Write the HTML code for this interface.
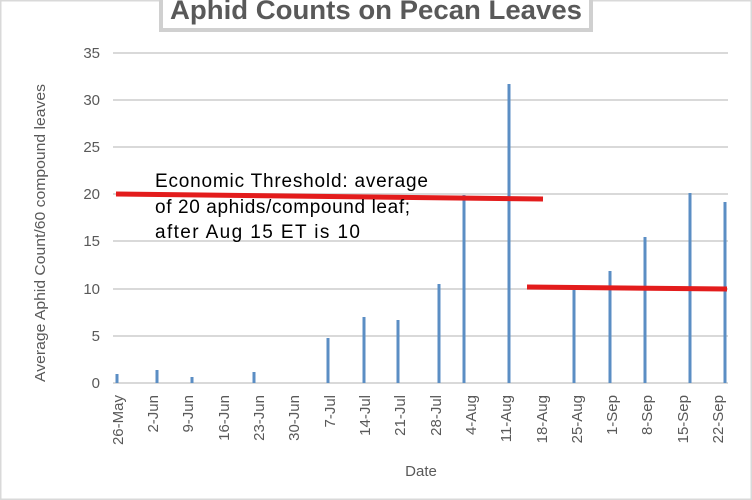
<!DOCTYPE html>
<html><head><style>
body{margin:0;background:#fff;}
svg{display:block;font-family:"Liberation Sans",sans-serif;}
</style></head><body>
<svg width="752" height="500" viewBox="0 0 752 500">
<rect x="0.5" y="0.5" width="751" height="499" fill="#fff" stroke="#d9d9d9" stroke-width="2"/>
<rect x="161" y="-8" width="430" height="38" fill="#fff" stroke="#d0d0d0" stroke-width="4"/>
<text x="376" y="19" text-anchor="middle" font-size="27" font-weight="bold" fill="#595959" textLength="412" lengthAdjust="spacingAndGlyphs">Aphid Counts on Pecan Leaves</text>
<g stroke="#d9d9d9" stroke-width="2">
<line x1="113" x2="728" y1="53" y2="53"/><line x1="113" x2="728" y1="100" y2="100"/>
<line x1="113" x2="728" y1="147" y2="147"/><line x1="113" x2="728" y1="194" y2="194"/>
<line x1="113" x2="728" y1="241" y2="241"/><line x1="113" x2="728" y1="289" y2="289"/>
<line x1="113" x2="728" y1="336" y2="336"/><line x1="113" x2="728" y1="383" y2="383"/>
</g>
<g font-size="15" fill="#595959" text-anchor="end">
<text x="100" y="58">35</text><text x="100" y="105">30</text><text x="100" y="152">25</text>
<text x="100" y="199">20</text><text x="100" y="246">15</text><text x="100" y="294">10</text>
<text x="100" y="341">5</text><text x="100" y="388">0</text>
</g>
<g stroke="#5b8ec4" stroke-width="3">
<line x1="117" x2="117" y1="383" y2="374"/><line x1="157" x2="157" y1="383" y2="370"/>
<line x1="192" x2="192" y1="383" y2="377"/><line x1="254" x2="254" y1="383" y2="372"/>
<line x1="328" x2="328" y1="383" y2="338"/><line x1="364" x2="364" y1="383" y2="317"/>
<line x1="398" x2="398" y1="383" y2="320"/><line x1="439" x2="439" y1="383" y2="284"/>
<line x1="464" x2="464" y1="383" y2="195"/><line x1="509" x2="509" y1="383" y2="84"/>
<line x1="574" x2="574" y1="383" y2="290"/><line x1="610" x2="610" y1="383" y2="271"/>
<line x1="645" x2="645" y1="383" y2="237"/><line x1="690" x2="690" y1="383" y2="193"/>
<line x1="725" x2="725" y1="383" y2="202"/>
</g>
<g font-size="15" fill="#595959" text-anchor="end">
<text transform="translate(123,395) rotate(-90)">26-May</text>
<text transform="translate(158,395) rotate(-90)">2-Jun</text>
<text transform="translate(193,395) rotate(-90)">9-Jun</text>
<text transform="translate(229,395) rotate(-90)">16-Jun</text>
<text transform="translate(264,395) rotate(-90)">23-Jun</text>
<text transform="translate(299,395) rotate(-90)">30-Jun</text>
<text transform="translate(335,395) rotate(-90)">7-Jul</text>
<text transform="translate(370,395) rotate(-90)">14-Jul</text>
<text transform="translate(405,395) rotate(-90)">21-Jul</text>
<text transform="translate(441,395) rotate(-90)">28-Jul</text>
<text transform="translate(476,395) rotate(-90)">4-Aug</text>
<text transform="translate(511,395) rotate(-90)">11-Aug</text>
<text transform="translate(547,395) rotate(-90)">18-Aug</text>
<text transform="translate(582,395) rotate(-90)">25-Aug</text>
<text transform="translate(617,395) rotate(-90)">1-Sep</text>
<text transform="translate(652,395) rotate(-90)">8-Sep</text>
<text transform="translate(688,395) rotate(-90)">15-Sep</text>
<text transform="translate(723,395) rotate(-90)">22-Sep</text>
</g>
<text x="421" y="476" text-anchor="middle" font-size="15" fill="#595959">Date</text>
<text transform="translate(45,233) rotate(-90)" text-anchor="middle" font-size="15" fill="#595959" textLength="298" lengthAdjust="spacingAndGlyphs">Average Aphid Count/60 compound leaves</text>
<g stroke="#e31c1c" stroke-width="5" stroke-linecap="butt">
<line x1="116" y1="194" x2="543" y2="199"/>
<line x1="527" y1="287" x2="727" y2="289"/>
</g>
<g font-size="19" fill="#000" lengthAdjust="spacingAndGlyphs">
<text x="155" y="187" textLength="273">Economic Threshold: average</text>
<text x="155" y="213" textLength="255">of 20 aphids/compound leaf;</text>
<text x="155" y="238" textLength="205">after Aug 15 ET is 10</text>
</g>
</svg>
</body></html>
